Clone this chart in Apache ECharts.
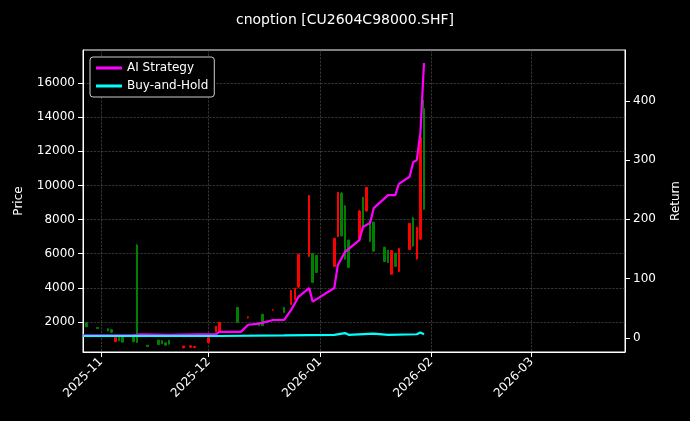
<!DOCTYPE html>
<html>
<head>
<meta charset="utf-8">
<script src="https://cdn.jsdelivr.net/npm/echarts@6/dist/echarts.min.js"></script>
<style>html,body{margin:0;background:#000}#main{width:690px;height:421px}</style>
</head>
<body>
<div id="main"></div>
<script>
// candles: date, open, close, low, high
var candleDates = ['2025-10-28','2025-10-31','2025-11-03','2025-11-04','2025-11-05','2025-11-06','2025-11-07','2025-11-10','2025-11-11','2025-11-14','2025-11-17','2025-11-18','2025-11-19','2025-11-20','2025-11-24','2025-11-26','2025-11-27','2025-12-01','2025-12-03','2025-12-04','2025-12-09','2025-12-12','2025-12-15','2025-12-16','2025-12-19','2025-12-22','2025-12-24','2025-12-25','2025-12-26','2025-12-29','2025-12-30','2025-12-31','2026-01-05','2026-01-06','2026-01-07','2026-01-08','2026-01-09','2026-01-12','2026-01-13','2026-01-14','2026-01-15','2026-01-16','2026-01-19','2026-01-20','2026-01-21','2026-01-22','2026-01-23','2026-01-26','2026-01-27','2026-01-28','2026-01-29','2026-01-30'];
var candleOpen  = [1950,1680,1600,1550,850,1100,1100,1100,6500,640,940,900,780,930,480,520,500,780,1420,1420,2850,2250,1990,2450,2700,2850,3020,3300,4050,5850,6000,5900,5250,7000,9550,8800,6800,6850,9300,8500,7950,7850,6380,6200,4800,6030,4950,6250,8100,5700,6850,14500];
var candleClose = [1720,1620,1480,1400,1100,900,820,850,800,560,680,720,640,700,590,600,560,1100,1750,1980,1980,2300,1780,1780,2720,2560,3850,3980,5950,9400,4320,4900,6900,9600,7050,5680,5200,8500,7600,9880,6720,6150,5540,5480,6180,5250,6300,7780,6450,7550,12800,8600];
var candleLow   = [1700,1600,1450,1350,820,880,780,800,770,540,650,700,620,680,470,500,520,770,1400,1400,1940,2200,1760,1760,2680,2530,3000,3290,4000,5800,4290,4870,5230,6990,7000,5640,5170,6810,7570,8450,6690,6110,5520,5460,4760,5230,4930,6220,6400,5640,6810,8570];
var candleHigh  = [2000,1700,1620,1570,1120,1120,1120,1120,6575,650,950,920,800,950,600,620,600,1120,1770,2000,2880,2320,2000,2470,2740,2880,3880,4000,6000,9450,6050,5930,6930,9620,9600,8860,6810,8570,9330,9920,7980,7870,6400,6220,6220,6050,6340,7800,8160,7570,13080,15000];

// returns (%)
var aiDates  = ['2025-10-27','2025-11-10','2025-11-12','2025-11-20','2025-11-28','2025-12-03','2025-12-04','2025-12-10','2025-12-12','2025-12-15','2025-12-19','2025-12-22','2025-12-24','2025-12-26','2025-12-29','2025-12-30','2026-01-05','2026-01-06','2026-01-08','2026-01-12','2026-01-13','2026-01-15','2026-01-16','2026-01-20','2026-01-22','2026-01-23','2026-01-26','2026-01-27','2026-01-28','2026-01-29','2026-01-30'];
var aiReturn = [4,4,6,5,6,6,10,10,22,24,30,30,47,69,84,61,84,123,145,165,187,194,219,241,241,260,272,297,300,346,464];
var bhDates  = ['2025-10-27','2025-11-20','2025-12-04','2025-12-22','2026-01-05','2026-01-08','2026-01-09','2026-01-16','2026-01-20','2026-01-28','2026-01-29','2026-01-30'];
var bhReturn = [3,3,3,4,5,8,5,7,5,6,9,6];

var monthTicks = ['2025-11-01','2025-12-01','2026-01-01','2026-02-01','2026-03-01'];
var priceTicks = [2000,4000,6000,8000,10000,12000,14000,16000];
var returnTicks = [0,100,200,300,400];

function ts(d) { return new Date(d + 'T00:00:00').getTime(); }

var candles = candleDates.map(function(d, i) {
	return [ts(d), candleOpen[i], candleClose[i], candleLow[i], candleHigh[i]];
});
var aiData = aiDates.map(function(d, i) { return [ts(d), aiReturn[i]]; });
var bhData = bhDates.map(function(d, i) { return [ts(d), bhReturn[i]]; });

var white = '#ffffff';
var gridLine = { show : true, lineStyle : { color : '#555', type : 'dashed', width : 0.6 } };
var chart = echarts.init(document.getElementById('main'));
chart.setOption({
	backgroundColor : '#000',
	animation : false,
	textStyle : { fontFamily : 'DejaVu Sans' },
	title : {
		text : 'cnoption [CU2604C98000.SHF]',
		left : 'center',
		top : 8,
		textStyle : { color : white, fontSize : 14, fontWeight : 'normal' }
	},
	legend : {
		left : 90, top : 57, orient : 'vertical',
		backgroundColor : '#000', borderColor : '#ccc', borderWidth : 1, borderRadius : 3,
		padding : [5, 6], itemGap : 6, itemWidth : 26, itemHeight : 3,
		textStyle : { color : white, fontSize : 12 },
		data : [ { name : 'AI Strategy', icon : 'rect' }, { name : 'Buy-and-Hold', icon : 'rect' } ]
	},
	grid : { left : 83, right : 65, top : 50, bottom : 69, show : true, borderColor : white, borderWidth : 1 },
	xAxis : {
		type : 'value',
		min : ts('2025-10-27'), max : ts('2026-03-27'),
		axisLine : { onZero : false, lineStyle : { color : white } },
		axisTick : { customValues : monthTicks.map(ts), lineStyle : { color : white } },
		axisLabel : {
			customValues : monthTicks.map(ts), rotate : 45, color : white, fontSize : 12,
			formatter : function(v) { var d = new Date(v); return d.getFullYear() + '-' + ('0' + (d.getMonth() + 1)).slice(-2); }
		},
		splitLine : gridLine
	},
	yAxis : [ {
		type : 'value', min : 240, max : 17935,
		name : 'Price', nameLocation : 'middle', nameGap : 58,
		nameTextStyle : { color : white, fontSize : 12 },
		axisLine : { show : true, lineStyle : { color : white } },
		axisTick : { show : true, customValues : priceTicks, lineStyle : { color : white } },
		axisLabel : { customValues : priceTicks, color : white, fontSize : 12, formatter : function(v) { return String(v); } },
		splitLine : gridLine
	}, {
		type : 'value', min : -24, max : 486,
		name : 'Return', nameLocation : 'middle', nameGap : 45,
		nameTextStyle : { color : white, fontSize : 12 },
		axisLine : { show : true, lineStyle : { color : white } },
		axisTick : { show : true, customValues : returnTicks, lineStyle : { color : white } },
		axisLabel : { customValues : returnTicks, color : white, fontSize : 12, formatter : function(v) { return String(v); } },
		splitLine : { show : false }
	} ],
	series : [ {
		type : 'candlestick',
		yAxisIndex : 0,
		barWidth : 2,
		itemStyle : { color : '#ff0000', color0 : '#008000', borderColor : '#ff0000', borderColor0 : '#008000', borderWidth : 1 },
		data : candles
	}, {
		name : 'AI Strategy', type : 'line', yAxisIndex : 1, showSymbol : false,
		color : '#ff00ff', lineStyle : { width : 2.2 }, data : aiData, z : 5
	}, {
		name : 'Buy-and-Hold', type : 'line', yAxisIndex : 1, showSymbol : false,
		color : '#00ffff', lineStyle : { width : 2.2 }, data : bhData, z : 5
	} ]
});
</script>
</body>
</html>
